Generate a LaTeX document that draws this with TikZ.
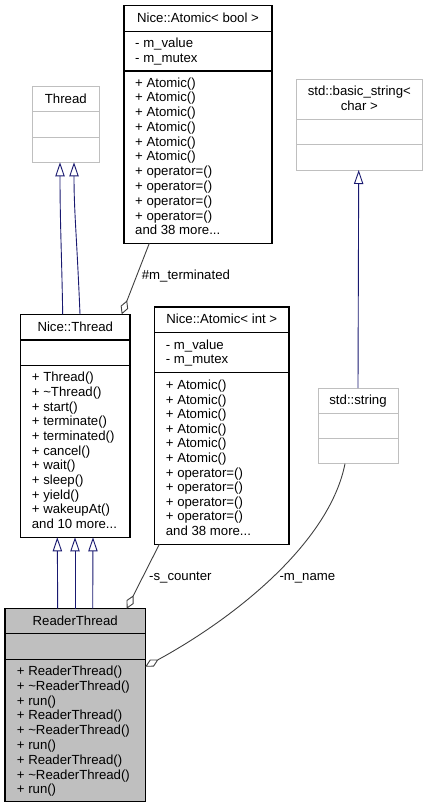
\documentclass[tikz,border=0pt]{standalone}
\usepackage{fontspec}
\setmainfont{Liberation Sans}
\usetikzlibrary{arrows.meta}
\definecolor{navy}{HTML}{191970}
\definecolor{lgray}{HTML}{BFBFBF}
\definecolor{dgray}{HTML}{404040}
\definecolor{rfill}{HTML}{BFBFBF}
\begin{document}
\begin{tikzpicture}[x=1pt,y=-1pt,
  classbox/.style={draw=black, line width=1.1pt, rectangle, inner sep=0pt, outer sep=0pt, anchor=north west},
  extbox/.style={classbox, draw=lgray, line width=1pt},
  sepline/.style={draw=black, line width=1.1pt},
  extsep/.style={draw=lgray, line width=1pt},
  txt/.style={inner sep=0pt, anchor=base west, font=\fontsize{13.2}{14.8}\selectfont},
  ctxt/.style={txt, anchor=base},
  inherit/.style={draw=navy, line width=0.9pt, -{Triangle[open, length=14pt, width=9.3pt, fill=white]}},
  aggr/.style={draw=dgray, line width=0.9pt, -{Diamond[open, length=15pt, width=8pt, fill=white]}}
]
\useasboundingbox (0,0) rectangle (428,808);

% ---------- Thread ----------
\node[extbox, minimum width=67pt, minimum height=75.6pt] (thr) at (32.3,86.7) {};
\draw[extsep] (thr.west |- 0,111.7) -- (thr.east |- 0,111.7);
\draw[extsep] (thr.west |- 0,137) -- (thr.east |- 0,137);
\node[ctxt] (thrt) at (65.8,103.5) {Thread};

% ---------- Nice::Atomic< bool > ----------
\node[classbox, minimum width=148pt, minimum height=237.6pt] (abool) at (124,5.7) {};
\draw[sepline] (abool.west |- 0,31.3) -- (abool.east |- 0,31.3);
\draw[sepline] (abool.west |- 0,71) -- (abool.east |- 0,71);
\node[ctxt] (aboolt) at (198,22.5) {Nice::Atomic< bool >};
\node[txt] (aboola0) at (135,47.5) {- m\_value};
\node[txt] (aboola1) at (135,62.3) {- m\_mutex};
\foreach \t [count=\i from 0] in {+ Atomic(),+ Atomic(),+ Atomic(),+ Atomic(),+ Atomic(),+ Atomic(),+ operator=(),+ operator=(),+ operator=(),+ operator=()}
  \node[txt] (aboolm\i) at (135,87.1+\i*14.77) {\t};
\node[txt] (aboolmore) at (135,87.1+10*14.77) {and 38 more...};

% ---------- std::basic_string< char > ----------
\node[extbox, minimum width=126.7pt, minimum height=91pt] (bstr) at (296,79) {};
\draw[extsep] (bstr.west |- 0,119) -- (bstr.east |- 0,119);
\draw[extsep] (bstr.west |- 0,144.3) -- (bstr.east |- 0,144.3);
\node[ctxt] (bstrt1) at (359.3,95.5) {std::basic\_string<};
\node[ctxt] (bstrt2) at (359.3,110.8) {char >};

% ---------- std::string ----------
\node[extbox, minimum width=80pt, minimum height=75.7pt] (str) at (318,388) {};
\draw[extsep] (str.west |- 0,413.3) -- (str.east |- 0,413.3);
\draw[extsep] (str.west |- 0,438.3) -- (str.east |- 0,438.3);
\node[ctxt] (strt) at (358,404.8) {std::string};

% ---------- Nice::Thread ----------
\node[classbox, minimum width=109.3pt, minimum height=223pt] (nth) at (20.7,314.3) {};
\draw[sepline] (nth.west |- 0,340) -- (nth.east |- 0,340);
\draw[sepline] (nth.west |- 0,365.3) -- (nth.east |- 0,365.3);
\node[ctxt] (ntht) at (75.3,331.5) {Nice::Thread};
\foreach \t [count=\i from 0] in {+ Thread(),+ \textasciitilde Thread(),+ start(),+ terminate(),+ terminated(),+ cancel(),+ wait(),+ sleep(),+ yield(),+ wakeupAt()}
  \node[txt] (nthm\i) at (31.7,381.8+\i*14.67) {\t};
\node[txt] (nthmore) at (31.7,381.8+10*14.67) {and 10 more...};

% ---------- Nice::Atomic< int > ----------
\node[classbox, minimum width=134.3pt, minimum height=237.3pt] (aint) at (154.7,307) {};
\draw[sepline] (aint.west |- 0,332.7) -- (aint.east |- 0,332.7);
\draw[sepline] (aint.west |- 0,372.3) -- (aint.east |- 0,372.3);
\node[ctxt] (aintt) at (221.8,323.8) {Nice::Atomic< int >};
\node[txt] (ainta0) at (165.7,349.1) {- m\_value};
\node[txt] (ainta1) at (165.7,363.9) {- m\_mutex};
\foreach \t [count=\i from 0] in {+ Atomic(),+ Atomic(),+ Atomic(),+ Atomic(),+ Atomic(),+ Atomic(),+ operator=(),+ operator=(),+ operator=(),+ operator=()}
  \node[txt] (aintm\i) at (165.7,389.5+\i*14.6) {\t};
\node[txt] (aintmore) at (165.7,389.5+10*14.6) {and 38 more...};

% ---------- ReaderThread ----------
\node[classbox, fill=rfill, minimum width=140.3pt, minimum height=193pt] (rt) at (5,608.7) {};
\draw[sepline] (rt.west |- 0,633.3) -- (rt.east |- 0,633.3);
\draw[sepline] (rt.west |- 0,659.3) -- (rt.east |- 0,659.3);
\node[ctxt] (rtt) at (75.2,625.5) {ReaderThread};
\foreach \t [count=\i from 0] in {+ ReaderThread(),+ \textasciitilde ReaderThread(),+ run(),+ ReaderThread(),+ \textasciitilde ReaderThread(),+ run(),+ ReaderThread(),+ \textasciitilde ReaderThread(),+ run()}
  \node[txt] (rtm\i) at (16.7,675.5+\i*14.8) {\t};

% ---------- inheritance ----------
\draw[inherit] ([xshift=42pt]nth.north west) .. controls ([xshift=41pt,yshift=60pt]nth.north west) and ([xshift=27.7pt,yshift=-60pt]thr.south west) .. ([xshift=27.7pt]thr.south west);
\draw[inherit] ([xshift=59.3pt]nth.north west) .. controls ([xshift=56pt,yshift=80pt]nth.north west) and ([xshift=41.7pt,yshift=-50pt]thr.south west) .. ([xshift=41.7pt]thr.south west);

\draw[inherit] ([xshift=52.7pt]rt.north west) -- ([xshift=36.6pt]nth.south west);
\draw[inherit] ([xshift=70pt]rt.north west) -- ([xshift=54.3pt]nth.south west);
\draw[inherit] ([xshift=87.7pt]rt.north west) -- ([xshift=72.3pt]nth.south west);

\draw[inherit] ([xshift=40pt]str.north west) -- ([xshift=62.7pt]bstr.south west);

% ---------- aggregation ----------
\draw[aggr] ([xshift=25.3pt]abool.south west) -- ([xshift=101pt]nth.north west);
\draw[aggr] ([xshift=4.6pt]aint.south west) -- ([xshift=121.7pt]rt.north west);
\draw[aggr] ([xshift=27pt]str.south west) .. controls (330,540) and (240,615) .. ([yshift=-58pt]rt.north east);

% ---------- labels ----------
\node[txt] (lterm) at (141.7,279.8) {\#m\_terminated};
\node[txt] (lcnt) at (149,580.5) {-s\_counter};
\node[txt] (lname) at (279.3,580.5) {-m\_name};
\end{tikzpicture}
\end{document}
